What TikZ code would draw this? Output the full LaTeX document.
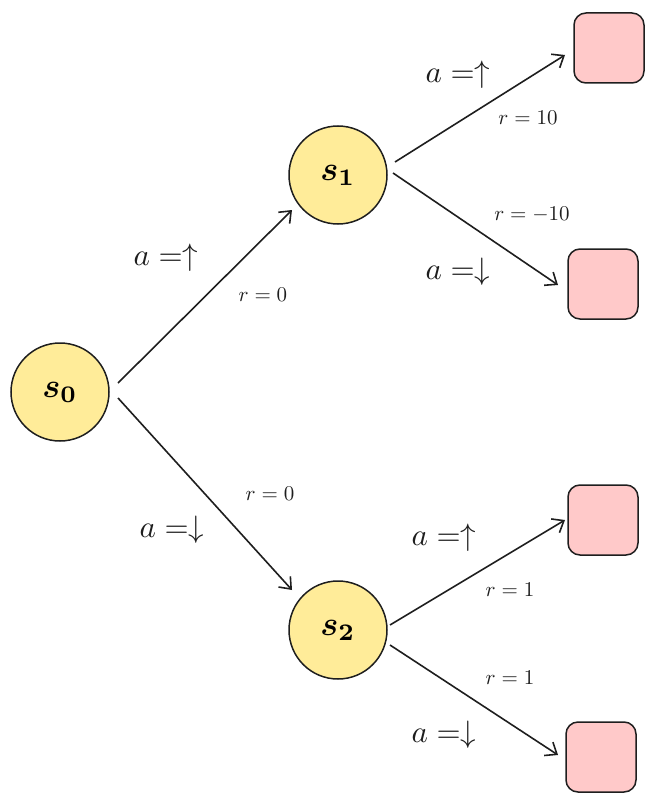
\documentclass[tikz,border=0pt]{standalone}
\usepackage{graphicx}
\usetikzlibrary{arrows.meta}
\definecolor{yel}{HTML}{FFEC99}
\definecolor{pnk}{HTML}{FFC9C9}
\definecolor{ink}{HTML}{1E1E1E}
\newcommand{\stl}[1]{\scalebox{3.4}{\boldmath$#1$}}
\newcommand{\acl}[1]{\scalebox{3.1}{$#1$}}
\newcommand{\rcl}[1]{\scalebox{2.1}{$#1$}}
\begin{document}
\begin{tikzpicture}[x=1pt,y=-1pt,
  st/.style={circle,draw=ink,line width=1.5pt,fill=yel,minimum size=98pt,inner sep=0pt},
  bx/.style={rounded corners=12pt,draw=ink,line width=1.5pt,fill=pnk,minimum width=70pt,minimum height=70pt},
  ed/.style={draw=ink,line width=1.6pt,-{Straight Barb[length=10pt,width=16pt]}},
  al/.style={text=ink,inner sep=1pt},
  rl/.style={text=ink,inner sep=1pt}]
\useasboundingbox (0,0) rectangle (658,805);
\node[st] (s0) at (60,392) {\stl{s_0}};
\node[st] (s1) at (338,175) {\stl{s_1}};
\node[st] (s2) at (338,630) {\stl{s_2}};
\node[bx] (b1) at (609,48) {};
\node[bx] (b2) at (603,284) {};
\node[bx] (b3) at (603,520) {};
\node[bx] (b4) at (601,757) {};
\coordinate (p1) at (118,383); \coordinate (q1) at (292,210);
\coordinate (p2) at (118,398); \coordinate (q2) at (292,590);
\coordinate (p3) at (395,162); \coordinate (q3) at (565,55);
\coordinate (p4) at (393,173); \coordinate (q4) at (558,285);
\coordinate (p5) at (390,625); \coordinate (q5) at (565,520);
\coordinate (p6) at (390,645); \coordinate (q6) at (558,755);
\draw[ed] (p1) -- (q1);
\draw[ed] (p2) -- (q2);
\draw[ed] (p3) -- (q3);
\draw[ed] (p4) -- (q4);
\draw[ed] (p5) -- (q5);
\draw[ed] (p6) -- (q6);
\node[al] (l1) at (166,258) {\acl{a=\uparrow}};
\node[rl] (r1) at (263,295) {\rcl{r=0}};
\node[al] (l2) at (172,530) {\acl{a=\downarrow}};
\node[rl] (r2) at (270,494) {\rcl{r=0}};
\node[al] (l3) at (458,75) {\acl{a=\uparrow}};
\node[rl] (r3) at (528,118) {\rcl{r=10}};
\node[rl] (r4) at (532,215) {\rcl{r=-10}};
\node[al] (l4) at (458,272) {\acl{a=\downarrow}};
\node[al] (l5) at (444,538) {\acl{a=\uparrow}};
\node[rl] (r5) at (510,590) {\rcl{r=1}};
\node[rl] (r6) at (510,678) {\rcl{r=1}};
\node[al] (l6) at (444,735) {\acl{a=\downarrow}};
\end{tikzpicture}
\end{document}
